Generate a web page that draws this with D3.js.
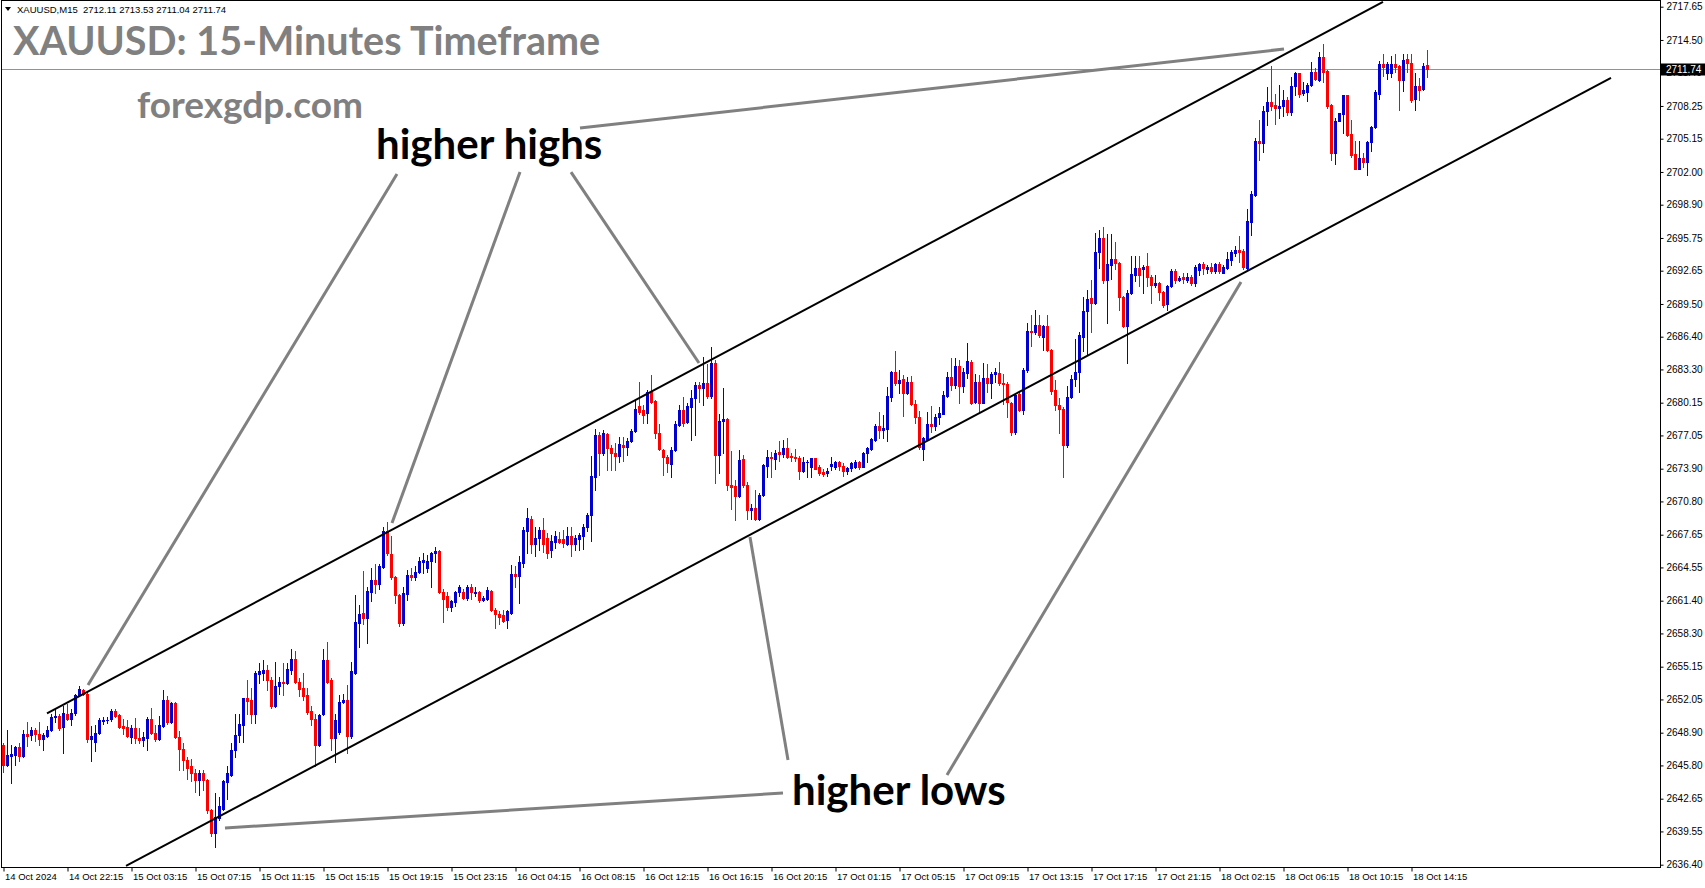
<!DOCTYPE html>
<html><head><meta charset="utf-8">
<script src="https://cdn.jsdelivr.net/npm/d3@7"></script>
<style>html,body{margin:0;padding:0;background:#fff;overflow:hidden}</style>
</head><body>
<svg id="chart" width="1705" height="888"></svg>
<script>
const symbolInfo = "XAUUSD,M15  2712.11 2713.53 2711.04 2711.74";
const chartTitle = "XAUUSD: 15-Minutes Timeframe";
const siteName = "forexgdp.com";
const labelHighs = "higher highs";
const labelLows = "higher lows";

const xTickLabels = ["14 Oct 2024","14 Oct 22:15","15 Oct 03:15","15 Oct 07:15","15 Oct 11:15","15 Oct 15:15","15 Oct 19:15","15 Oct 23:15","16 Oct 04:15","16 Oct 08:15","16 Oct 12:15","16 Oct 16:15","16 Oct 20:15","17 Oct 01:15","17 Oct 05:15","17 Oct 09:15","17 Oct 13:15","17 Oct 17:15","17 Oct 21:15","18 Oct 02:15","18 Oct 06:15","18 Oct 10:15","18 Oct 14:15"];
const barsPerXTick = 16;
const yTickValues = [2717.65,2714.50,2711.40,2708.25,2705.15,2702.00,2698.90,2695.75,2692.65,2689.50,2686.40,2683.30,2680.15,2677.05,2673.90,2670.80,2667.65,2664.55,2661.40,2658.30,2655.15,2652.05,2648.90,2645.80,2642.65,2639.55,2636.40];
const lastPrice = 2711.74;

// [open, high, low, close] per 15-minute bar
const candles = [
[2647.7,2647.9,2645.2,2645.8],[2645.8,2649.2,2645.7,2646.8],[2646.7,2647.7,2644.1,2646.9],[2646.8,2647.6,2645.8,2647.5],[2647.5,2647.9,2646.2,2646.7],
[2646.7,2649.2,2646.6,2648.8],[2648.8,2649.9,2647.6,2648.6],[2648.7,2649.4,2648.2,2649.2],[2649.2,2649.3,2648.1,2648.8],[2648.8,2649.9,2647.7,2648.3],
[2648.3,2648.9,2647.3,2648.7],[2648.6,2649.5,2648.5,2649.2],[2649.2,2650.7,2649.1,2650.4],[2650.4,2651.1,2649.9,2650.5],[2650.5,2650.7,2649.2,2649.3],
[2649.4,2651.4,2647.0,2650.8],[2650.7,2651.6,2650.1,2650.2],[2650.2,2651.1,2649.6,2650.8],[2650.8,2652.6,2650.6,2652.5],[2652.5,2653.3,2652.4,2653.0],
[2652.9,2653.0,2652.5,2652.6],[2652.6,2652.8,2648.0,2648.3],[2648.3,2649.5,2646.2,2648.6],[2648.0,2649.6,2647.2,2648.9],[2648.9,2650.3,2648.8,2650.1],
[2650.0,2650.4,2649.7,2650.1],[2650.1,2650.4,2649.8,2650.15],[2650.2,2651.1,2650.0,2651.0],[2651.0,2651.1,2650.4,2650.5],[2650.6,2650.7,2649.3,2649.4],
[2649.5,2650.2,2648.8,2649.35],[2649.4,2650.1,2648.5,2648.6],[2648.5,2649.6,2647.9,2649.3],[2649.3,2650.3,2647.9,2648.4],[2648.4,2649.3,2647.9,2648.2],
[2648.2,2649.0,2647.6,2648.5],[2648.4,2650.35,2647.3,2650.2],[2650.2,2651.2,2648.8,2648.9],[2648.9,2649.6,2648.15,2648.3],[2648.3,2650.5,2648.2,2649.6],
[2649.5,2652.9,2649.4,2652.0],[2652.0,2652.4,2649.7,2649.9],[2649.9,2651.8,2649.8,2651.7],[2651.7,2651.8,2648.4,2648.5],[2648.5,2649.1,2645.4,2647.4],
[2647.4,2647.9,2645.4,2646.3],[2646.3,2646.6,2644.5,2645.6],[2645.7,2646.4,2644.3,2645.05],[2645.05,2645.5,2643.3,2644.4],[2644.4,2645.4,2643.0,2645.05],
[2645.05,2645.4,2643.5,2644.4],[2644.4,2644.5,2641.3,2641.6],[2641.6,2641.7,2639.1,2639.4],[2639.4,2643.2,2638.1,2640.9],[2640.8,2642.8,2640.6,2642.0],
[2641.7,2644.4,2641.6,2644.3],[2644.2,2645.7,2642.6,2645.05],[2644.9,2647.9,2644.8,2647.3],[2647.3,2650.7,2646.6,2648.7],[2648.7,2650.7,2648.05,2649.7],
[2649.6,2652.2,2648.05,2652.15],[2652.15,2653.9,2650.7,2651.9],[2652.0,2653.1,2649.8,2650.7],[2650.7,2654.7,2649.8,2654.6],[2654.5,2655.5,2653.6,2654.7],
[2654.6,2655.8,2653.9,2654.8],[2654.8,2655.3,2652.9,2653.9],[2653.9,2654.2,2651.2,2651.4],[2651.4,2655.6,2651.3,2653.3],[2653.3,2654.2,2652.6,2653.7],
[2653.7,2655.5,2652.5,2653.6],[2653.6,2655.5,2653.5,2654.9],[2654.8,2656.8,2654.5,2655.85],[2655.9,2656.6,2653.6,2653.7],[2653.7,2654.05,2652.4,2653.0],
[2653.1,2654.6,2652.0,2652.4],[2652.5,2653.1,2650.7,2650.9],[2651.0,2651.4,2649.6,2650.2],[2650.2,2650.7,2645.7,2647.7],[2647.7,2650.7,2647.6,2650.6],
[2650.7,2656.8,2650.6,2655.8],[2655.8,2657.5,2653.6,2653.7],[2653.9,2654.05,2647.3,2648.4],[2648.4,2650.7,2646.1,2650.1],[2649.0,2652.5,2648.8,2651.8],
[2651.8,2652.6,2651.7,2652.0],[2652.0,2653.4,2647.0,2648.6],[2648.6,2655.6,2648.4,2654.7],[2654.6,2661.9,2654.5,2659.35],[2659.3,2661.0,2657.05,2660.1],
[2660.2,2664.2,2659.2,2659.8],[2659.8,2662.7,2657.4,2662.3],[2662.25,2664.46,2661.4,2663.36],[2663.4,2664.9,2662.1,2663.0],[2663.0,2664.9,2662.5,2664.7],
[2664.6,2668.4,2664.5,2668.0],[2668.0,2668.9,2665.7,2665.9],[2665.8,2667.5,2663.5,2663.6],[2663.6,2663.7,2661.15,2661.9],[2661.9,2662.0,2659.0,2659.3],
[2659.3,2662.7,2659.1,2662.1],[2662.0,2664.3,2661.5,2663.8],[2663.8,2664.5,2663.4,2663.6],[2663.6,2664.7,2663.4,2664.15],[2664.1,2665.5,2664.0,2665.2],
[2665.1,2665.9,2664.05,2665.3],[2664.5,2665.7,2664.15,2665.2],[2665.2,2666.0,2662.7,2665.9],[2665.9,2666.5,2665.1,2666.1],[2666.1,2666.2,2662.1,2662.25],
[2662.25,2662.5,2659.4,2661.6],[2661.8,2662.25,2660.5,2660.8],[2660.8,2661.5,2660.4,2661.4],[2661.3,2662.35,2660.9,2662.25],[2662.2,2662.9,2661.8,2662.7],
[2662.25,2662.5,2661.6,2661.7],[2661.7,2662.9,2661.5,2662.7],[2662.7,2663.0,2661.6,2662.25],[2662.15,2662.7,2661.8,2662.25],[2662.2,2662.3,2661.3,2661.5],
[2661.45,2661.85,2661.4,2661.7],[2661.6,2662.7,2661.5,2662.4],[2662.35,2662.4,2660.4,2660.5],[2660.5,2660.7,2658.8,2660.1],[2660.1,2660.4,2659.2,2659.9],
[2660.0,2660.5,2659.4,2659.5],[2659.6,2660.5,2658.8,2660.4],[2660.2,2664.8,2660.1,2663.9],[2663.9,2664.7,2662.7,2663.7],[2663.7,2665.6,2661.2,2665.1],
[2665.0,2668.4,2664.6,2668.1],[2668.0,2670.15,2665.9,2669.2],[2669.1,2669.4,2665.9,2666.8],[2666.8,2668.4,2665.6,2667.3],[2667.3,2668.4,2666.2,2668.1],
[2668.1,2669.2,2666.0,2666.8],[2667.3,2667.8,2665.4,2665.9],[2666.2,2667.6,2665.5,2667.1],[2667.0,2668.0,2666.4,2667.5],[2667.2,2667.9,2666.9,2667.0],
[2667.2,2668.1,2666.5,2666.9],[2666.8,2668.35,2666.7,2667.5],[2667.5,2668.35,2665.6,2666.8],[2666.8,2667.6,2666.2,2667.3],[2667.2,2667.8,2666.2,2667.6],
[2667.5,2668.7,2666.3,2668.4],[2668.35,2669.7,2668.0,2669.5],[2669.5,2675.1,2667.1,2673.2],[2673.1,2677.7,2671.9,2677.1],[2677.1,2677.4,2673.3,2675.35],
[2675.35,2677.6,2675.2,2677.25],[2677.2,2677.3,2673.8,2675.9],[2675.9,2676.1,2673.8,2675.35],[2675.35,2676.3,2673.8,2675.1],[2675.1,2676.9,2674.5,2676.2],
[2676.15,2676.9,2674.6,2676.0],[2676.0,2676.8,2675.2,2676.55],[2676.5,2677.7,2676.4,2677.5],[2677.5,2680.4,2677.4,2679.6],[2679.8,2682.1,2679.1,2679.3],
[2679.5,2679.9,2678.2,2679.0],[2679.2,2681.35,2678.2,2681.2],[2681.2,2682.8,2680.15,2680.25],[2680.3,2680.4,2676.8,2677.3],[2677.3,2678.1,2675.7,2675.8],
[2675.7,2675.8,2673.3,2675.0],[2675.0,2675.2,2673.6,2674.4],[2674.35,2676.0,2673.1,2675.7],[2675.7,2678.45,2675.6,2678.1],[2678.0,2679.9,2677.9,2679.5],
[2679.5,2680.7,2677.9,2678.2],[2678.35,2680.1,2678.2,2679.8],[2679.7,2681.35,2676.6,2680.6],[2680.6,2682.1,2677.1,2681.8],[2681.8,2682.1,2680.2,2681.5],
[2681.5,2684.5,2679.9,2682.05],[2682.0,2683.8,2680.6,2680.8],[2680.8,2685.45,2680.6,2683.9],[2683.9,2684.2,2672.5,2675.2],[2675.2,2679.1,2673.5,2678.45],
[2678.45,2681.5,2675.35,2678.6],[2678.6,2678.7,2671.9,2672.35],[2672.4,2675.6,2670.1,2672.2],[2672.25,2672.8,2669.0,2671.3],[2671.3,2675.7,2671.25,2674.7],
[2674.8,2675.2,2672.2,2672.35],[2672.4,2672.6,2669.1,2670.0],[2670.0,2670.6,2669.1,2670.2],[2670.2,2671.9,2669.0,2669.1],[2669.1,2671.6,2669.0,2671.4],
[2671.4,2674.35,2671.3,2674.25],[2674.2,2675.7,2673.1,2675.0],[2675.0,2675.5,2673.1,2674.9],[2674.8,2675.7,2673.9,2675.35],[2675.5,2676.5,2674.6,2675.3],
[2675.3,2676.6,2675.0,2675.9],[2675.9,2676.8,2674.9,2675.0],[2675.1,2675.35,2674.6,2675.0],[2675.0,2675.8,2674.6,2674.9],[2674.95,2675.1,2672.9,2673.7],
[2673.7,2675.0,2673.6,2674.55],[2674.5,2674.7,2673.1,2674.55],[2674.1,2674.95,2673.1,2674.9],[2674.9,2674.95,2673.85,2673.9],[2674.1,2674.25,2673.3,2673.45],
[2673.6,2673.9,2673.2,2673.4],[2673.5,2674.0,2673.2,2673.7],[2674.15,2675.0,2673.8,2674.35],[2674.1,2674.6,2673.9,2674.55],[2674.5,2674.6,2673.8,2674.15],
[2674.2,2674.4,2673.2,2673.7],[2673.7,2674.1,2673.4,2674.0],[2673.95,2674.55,2673.7,2674.4],[2674.1,2674.7,2674.0,2674.55],[2674.55,2674.6,2673.9,2674.1],
[2674.1,2675.5,2674.05,2675.4],[2675.35,2676.0,2674.5,2675.9],[2675.8,2676.8,2675.7,2676.7],[2676.6,2678.1,2676.55,2677.9],[2677.95,2679.3,2676.8,2677.6],
[2677.6,2679.0,2676.8,2677.8],[2677.7,2681.6,2676.55,2680.8],[2680.7,2683.15,2680.3,2683.08],[2683.08,2685.0,2681.8,2682.0],[2682.0,2683.2,2681.1,2682.3],
[2682.35,2682.8,2678.9,2681.1],[2681.1,2682.6,2681.0,2682.15],[2682.15,2682.7,2679.9,2680.0],[2680.0,2680.4,2678.25,2678.8],[2678.8,2679.4,2675.8,2676.0],
[2675.8,2676.9,2674.7,2676.8],[2676.7,2679.3,2676.6,2678.1],[2678.1,2679.8,2677.4,2677.9],[2677.9,2679.1,2677.6,2678.8],[2678.8,2679.7,2678.1,2679.2],
[2679.1,2681.3,2679.05,2680.9],[2680.8,2683.1,2680.7,2682.55],[2682.55,2684.35,2681.4,2681.8],[2681.8,2684.35,2681.5,2683.6],[2683.6,2684.2,2680.15,2681.7],
[2681.7,2683.4,2681.2,2683.1],[2683.0,2685.8,2682.45,2684.1],[2684.05,2684.15,2680.0,2680.15],[2680.2,2682.9,2680.1,2682.1],[2682.1,2682.8,2679.2,2680.15],
[2680.15,2683.9,2680.1,2682.45],[2682.45,2683.8,2681.2,2682.0],[2682.0,2683.1,2680.6,2682.9],[2682.85,2683.4,2682.1,2683.1],[2683.0,2684.0,2681.8,2682.0],
[2682.0,2682.9,2680.0,2681.9],[2681.95,2682.1,2678.8,2680.2],[2680.1,2680.2,2677.1,2677.4],[2677.4,2681.1,2677.2,2680.9],[2681.0,2681.3,2679.4,2679.5],
[2679.5,2683.4,2679.1,2683.2],[2683.2,2687.7,2683.1,2686.9],[2686.95,2688.45,2685.5,2686.8],[2686.8,2688.9,2686.7,2687.5],[2687.5,2688.45,2686.4,2686.55],
[2686.4,2687.55,2685.1,2687.4],[2687.4,2688.45,2685.0,2685.1],[2685.15,2685.2,2681.0,2681.3],[2681.4,2682.3,2679.45,2679.9],[2679.9,2680.6,2677.3,2679.6],
[2679.6,2679.7,2673.1,2676.1],[2676.1,2681.7,2676.0,2680.65],[2680.65,2682.8,2680.55,2682.35],[2682.35,2686.2,2681.7,2683.1],[2683.1,2686.8,2681.2,2686.55],
[2686.4,2690.2,2685.0,2688.8],[2688.8,2690.8,2684.8,2690.0],[2690.1,2691.8,2686.8,2689.6],[2689.6,2696.25,2689.5,2694.45],[2694.4,2696.5,2692.9,2695.7],
[2695.7,2696.8,2691.5,2691.8],[2691.8,2696.1,2687.7,2693.3],[2693.2,2696.1,2691.9,2693.8],[2693.8,2695.4,2692.8,2693.4],[2693.4,2693.5,2688.9,2690.2],
[2690.2,2690.3,2687.3,2687.4],[2687.4,2690.8,2683.9,2690.5],[2690.5,2694.0,2690.4,2692.3],[2692.25,2694.05,2691.7,2692.9],[2692.9,2694.0,2691.2,2692.25],
[2692.8,2693.2,2690.5,2692.97],[2693.1,2694.3,2691.2,2692.1],[2692.1,2692.25,2689.6,2691.3],[2691.3,2692.25,2691.1,2691.5],[2691.5,2691.6,2689.9,2690.66],
[2690.66,2690.76,2689.24,2689.4],[2689.5,2691.3,2688.9,2691.2],[2691.2,2692.8,2691.1,2692.65],[2692.65,2692.8,2691.45,2691.8],[2691.8,2692.15,2691.7,2692.0],
[2692.1,2692.45,2691.5,2691.85],[2691.8,2692.45,2691.6,2692.1],[2692.1,2692.25,2691.3,2691.45],[2691.45,2693.2,2691.2,2692.97],[2692.7,2693.35,2692.25,2693.3],
[2693.3,2693.5,2692.3,2692.9],[2692.8,2693.2,2692.4,2693.0],[2692.97,2693.35,2692.4,2692.65],[2692.65,2693.4,2692.4,2693.3],[2693.3,2693.5,2692.45,2692.65],
[2692.45,2693.2,2692.4,2692.97],[2692.9,2694.45,2692.8,2693.8],[2693.7,2694.6,2693.2,2694.45],[2694.35,2695.0,2694.0,2694.6],[2694.6,2695.9,2693.5,2694.45],
[2694.5,2694.7,2692.8,2692.97],[2692.9,2698.5,2692.8,2697.4],[2697.3,2700.2,2696.0,2699.9],[2699.8,2705.2,2699.7,2704.9],[2704.9,2706.9,2703.1,2704.7],
[2704.7,2708.2,2703.9,2707.8],[2707.8,2710.0,2706.4,2708.65],[2708.65,2712.0,2707.9,2708.24],[2708.3,2709.4,2706.5,2708.1],[2708.1,2710.2,2707.1,2708.24],
[2708.2,2709.8,2707.3,2708.8],[2708.8,2709.1,2707.4,2707.7],[2707.7,2711.0,2707.4,2710.1],[2710.1,2711.5,2709.3,2711.34],[2711.34,2711.4,2709.1,2709.4],
[2709.5,2710.55,2709.3,2709.8],[2709.6,2710.45,2708.75,2710.2],[2710.2,2712.4,2710.1,2711.5],[2711.5,2711.8,2710.7,2710.8],[2710.7,2713.4,2710.6,2712.9],
[2712.9,2714.1,2710.55,2711.5],[2711.6,2711.7,2708.1,2708.24],[2708.3,2708.4,2703.1,2703.8],[2703.8,2707.1,2702.8,2706.85],[2706.85,2707.6,2706.8,2707.55],
[2707.5,2709.3,2705.65,2709.28],[2709.28,2709.3,2705.4,2705.5],[2705.6,2706.9,2703.4,2703.6],[2703.7,2704.9,2702.25,2702.3],[2702.3,2704.9,2702.25,2703.3],
[2703.3,2703.8,2702.5,2702.9],[2702.9,2704.9,2701.7,2704.8],[2704.8,2706.35,2704.0,2706.3],[2706.3,2709.8,2706.2,2709.6],[2709.4,2712.5,2708.9,2712.2],
[2712.2,2713.2,2711.1,2711.97],[2711.4,2712.4,2710.8,2712.2],[2711.34,2713.0,2711.0,2712.2],[2712.2,2713.2,2711.5,2711.97],[2712.0,2712.1,2707.9,2710.7],
[2710.7,2713.2,2709.7,2712.6],[2712.66,2713.2,2711.5,2712.35],[2712.35,2713.2,2708.65,2708.8],[2708.9,2711.4,2707.9,2710.14],[2710.14,2710.9,2708.8,2709.8],
[2709.9,2712.35,2709.8,2712.03],[2712.11,2713.53,2711.04,2711.74]
];

// channel lines: [barIndex, price]
const channelUpper = [[11, 2650.72], [345, 2718.10]];
const channelLower = [[30.75, 2636.28], [402, 2710.90]];
// pointer lines from labels: [[bar, price],[bar, price]]
const highPointers = [
  [[21.25, 2653.42], [98.5, 2701.81]],
  [[97.25, 2668.76], [129.25, 2701.99]],
  [[142, 2701.99], [174, 2683.91]],
  [[144.25, 2706.16], [320.25, 2713.64]]
];
const lowPointers = [
  [[55.5, 2639.87], [195, 2643.19]],
  [[236, 2644.89], [309.5, 2691.58]],
  [[196.25, 2646.32], [186.75, 2667.43]]
];

const W = 1705, H = 888;
const plotL = 1, plotR = 1660, plotT = 0, plotB = 867;
const svg = d3.select("#chart");
svg.append("rect").attr("width", W).attr("height", H).attr("fill", "#fff");

const x = d3.scaleLinear().domain([0, candles.length - 1]).range([3, 3 + 4 * (candles.length - 1)]);
const y = d3.scaleLinear().domain([2636.40, 2717.65]).range([864.7, 6.7]);

svg.append("defs").append("clipPath").attr("id", "plotClip")
  .append("rect").attr("x", plotL + 1).attr("y", plotT + 1).attr("width", plotR - plotL - 1).attr("height", plotB - plotT - 1);

const plot = svg.append("g").attr("clip-path", "url(#plotClip)");

// last price line
plot.append("line").attr("x1", plotL).attr("x2", plotR)
  .attr("y1", Math.round(y(lastPrice)) + 0.5).attr("y2", Math.round(y(lastPrice)) + 0.5)
  .attr("stroke", "#8a949e").attr("stroke-width", 1);

// candles
const bull = "#0000d0", bear = "#ff0000";
const cg = plot.append("g");
cg.selectAll("rect.wick").data(candles).join("rect")
  .attr("class", "wick")
  .attr("x", (d, i) => x(i))
  .attr("width", 1)
  .attr("y", d => Math.round(y(Math.max(d[1], d[0], d[3]))))
  .attr("height", d => Math.max(1, Math.round(y(Math.min(d[2], d[0], d[3]))) - Math.round(y(Math.max(d[1], d[0], d[3]))) + 1))
  .attr("fill", d => d[3] >= d[0] ? bull : bear);
cg.selectAll("rect.body").data(candles).join("rect")
  .attr("class", "body")
  .attr("x", (d, i) => x(i) - 1)
  .attr("width", 3)
  .attr("y", d => Math.round(y(Math.max(d[0], d[3]))))
  .attr("height", d => Math.max(1, Math.round(y(Math.min(d[0], d[3]))) - Math.round(y(Math.max(d[0], d[3]))) + 1))
  .attr("fill", d => d[3] >= d[0] ? bull : bear);

// channel lines
const line = d3.line().x(d => x(d[0])).y(d => y(d[1]));
[channelUpper, channelLower].forEach(seg => {
  plot.append("path").attr("d", line(seg)).attr("stroke", "#000").attr("stroke-width", 2).attr("fill", "none");
});
// pointer lines
[...highPointers, ...lowPointers].forEach(seg => {
  plot.append("path").attr("d", line(seg)).attr("stroke", "#808080").attr("stroke-width", 3).attr("fill", "none");
});

// frame
svg.append("rect").attr("x", plotL + 0.5).attr("y", plotT + 0.5).attr("width", plotR - plotL).attr("height", plotB - plotT)
  .attr("fill", "none").attr("stroke", "#000").attr("stroke-width", 1);

const axisFont = "'Liberation Sans', Arial, sans-serif";

// y axis
const yAxis = d3.axisRight(y).tickValues(yTickValues).tickFormat(d3.format(".2f")).tickSize(3).tickPadding(3);
const yg = svg.append("g").attr("transform", `translate(${plotR + 0.5},0)`).call(yAxis);
yg.select(".domain").remove();
yg.selectAll("text").attr("font-family", axisFont).attr("font-size", 10).attr("fill", "#000");

// last price box
const lpY = Math.round(y(lastPrice)) + 0.5;
svg.append("rect").attr("x", plotR + 1).attr("y", lpY - 6).attr("width", 44).attr("height", 12).attr("fill", "#000");
svg.append("text").attr("x", plotR + 6).attr("y", lpY).attr("dy", "0.35em")
  .attr("font-family", axisFont).attr("font-size", 10).attr("fill", "#fff").text(d3.format(".2f")(lastPrice));

// x axis
const xTickIdx = xTickLabels.map((_, k) => k * barsPerXTick);
const xAxis = d3.axisBottom(x).tickValues(xTickIdx).tickFormat((d, i) => xTickLabels[i]).tickSize(4).tickPadding(2);
const xg = svg.append("g").attr("transform", `translate(0.5,${plotB + 0.5})`).call(xAxis);
xg.select(".domain").remove();
xg.selectAll("text").attr("font-family", axisFont).attr("font-size", 9.5).attr("fill", "#000")
  .attr("text-anchor", "start").attr("dx", 1);

// header
svg.append("path").attr("d", "M5,7 L11,7 L8,11 Z").attr("fill", "#000");
svg.append("text").attr("x", 17).attr("y", 13).attr("font-family", axisFont).attr("font-size", 9.5)
  .attr("fill", "#000").attr("xml:space", "preserve").style("white-space", "pre").text(symbolInfo);

const annFont = "Lato, 'Open Sans', sans-serif";
svg.append("text").attr("x", 13).attr("y", 55).attr("font-family", annFont).attr("font-weight", "bold")
  .attr("font-size", 39.5).attr("fill", "#808080").text(chartTitle);
svg.append("text").attr("x", 137).attr("y", 118).attr("font-family", annFont).attr("font-weight", "bold")
  .attr("font-size", 37).attr("fill", "#808080").text(siteName);
svg.append("text").attr("x", 376).attr("y", 159).attr("font-family", annFont).attr("font-weight", "bold")
  .attr("font-size", 42).attr("fill", "#000").text(labelHighs);
svg.append("text").attr("x", 792).attr("y", 805).attr("font-family", annFont).attr("font-weight", "bold")
  .attr("font-size", 42).attr("fill", "#000").text(labelLows);
</script>
</body></html>
